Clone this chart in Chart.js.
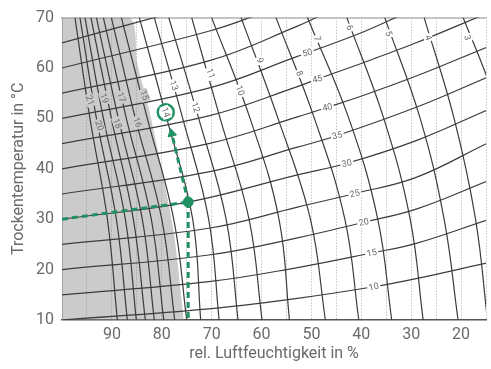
<!DOCTYPE html>
<html>
<head>
<meta charset="utf-8">
<script src="https://cdn.jsdelivr.net/npm/chart.js@4.4.0/dist/chart.umd.min.js"></script>
<style>
html, body { margin: 0; padding: 0; background: #fff; }
</style>
</head>
<body>
<canvas id="chart" width="491" height="369"></canvas>
<script>
// ---------------- DATA ----------------
// x = rel. Luftfeuchtigkeit (%), y = Trockentemperatur (°C)
const xTicks = [90, 80, 70, 60, 50, 40, 30, 20];
const yTicks = [10, 20, 30, 40, 50, 60, 70];

// Holzfeuchte-Gleichgewicht (%): rel. Feuchte bei T = 70, 50, 30, 10 °C
const emcTemps = [70, 50, 30, 10];
const emc4 = [27.4, 21.4, 17.1, 14.7];
const emc5 = [35.3, 28.2, 23.4, 20.6];
const emc6 = [42.9, 35.5, 30.2, 27.6];
const emc7 = [50.8, 42.5, 36.7, 33.9];
const emc8 = [57.1, 49.4, 43.3, 40.5];
const emc9 = [64.1, 56.7, 50.2, 47.2];
const emc10 = [70.0, 62.3, 56.5, 54.4];
const emc11 = [74.0, 68.3, 62.5, 59.9];
const emc12 = [78.6, 72.6, 67.1, 64.7];
const emc13 = [81.5, 75.8, 70.6, 68.5];
const emc14 = [84.5, 79.0, 73.8, 72.2];
const emc15 = [88.1, 82.9, 77.6, 75.0];
const emc16 = [90.1, 85.3, 80.0, 77.4];
const emc17 = [91.7, 87.1, 82.1, 79.6];
const emc18 = [93.1, 88.7, 83.9, 81.5];
const emc19 = [94.2, 90.1, 85.7, 83.3];
const emc20 = [95.4, 91.7, 87.3, 85.1];
const emc21 = [96.4, 93.1, 89.1, 86.9];
const emc22 = [97.4, 94.4, 90.9, 88.9];
const emc3 = [[19.6, 70], [15.5, 60], [12.5, 52]];
const emcLevels = [4, 5, 6, 7, 8, 9, 10, 11, 12, 13, 14, 15, 16, 17, 18, 19, 20, 21, 22];
const emcRH = [emc4, emc5, emc6, emc7, emc8, emc9, emc10, emc11, emc12, emc13,
               emc14, emc15, emc16, emc17, emc18, emc19, emc20, emc21, emc22];

// Feuchttemperatur-Linien (°C): [rel. Feuchte, Trockentemperatur]
const wb10 = [[100, 10], [70.6, 12.2], [52.8, 14.3], [37.5, 16.6], [29.0, 18.2], [14.9, 21.3]];
const wb15 = [[100, 15], [70.6, 17.6], [52.8, 20.4], [37.9, 23.3], [29.0, 25.2], [14.9, 29.8]];
const wb20 = [[100, 20], [70.6, 22.9], [52.8, 26.3], [39.5, 29.4], [29.0, 32.0], [14.9, 37.5]];
const wb25 = [[100, 25], [70.6, 28.2], [52.8, 32.4], [41.3, 35.1], [29.0, 38.3], [14.9, 45.0]];
const wb30 = [[100, 30], [74.7, 33.4], [52.8, 38.8], [42.9, 41.1], [29.0, 45.6], [14.9, 51.6]];
const wb35 = [[100, 35], [70.6, 39.4], [52.8, 44.3], [44.8, 46.6], [29.0, 52.2], [14.9, 58.1]];
const wb40 = [[100, 40], [70.6, 45.0], [52.8, 50.3], [46.8, 52.2], [39.5, 54.6], [29.0, 58.4], [14.9, 64.1]];
const wb45 = [[100, 45], [70.6, 50.5], [52.8, 56.3], [48.8, 57.8], [39.5, 61.1], [29.0, 65.0], [14.9, 70.8]];
const wb50 = [[100, 50], [70.6, 56.0], [52.8, 62.3], [50.8, 63.0], [39.5, 67.2], [32.0, 70.5]];
const wb55 = [[100, 55], [70.6, 61.4], [52.8, 68.3], [48.0, 70.5]];
const wb60 = [[100, 60], [70.6, 67.3], [60.0, 70.8]];
const wb65 = [[100, 65], [80.0, 70.4]];
const wbLines = [wb10, wb15, wb20, wb25, wb30, wb35, wb40, wb45, wb50, wb55, wb60, wb65];

// grauer Bereich (links der Grenzlinie)
const grayZone = [[100, 70], [86.5, 70], [84.9, 60.9], [82.5, 51.6], [80.2, 40.7], [77.6, 27.4], [75.6, 10]];

// Beispiel: Feuchttemperatur 30 °C, 75 % -> Holzfeuchte 14 %
const exampleH = [[100, 30], [74.7, 33.4]];
const exampleV = [[74.7, 33.4], [74.7, 10]];
const exampleUp = [[74.7, 33.4], [78.0, 47.0]];
const examplePoint = [[74.7, 33.4]];
const exampleArrow = [[78.0, 47.0]];
const exampleCircle = [[79.2, 51.2]];

// Beschriftungen [Wert, rel. Feuchte, Temperatur]
const wbLabels = [[10, 37.5, 16.6], [15, 37.9, 23.3], [20, 39.5, 29.4], [25, 41.3, 35.1], [30, 42.9, 41.1],
                  [35, 44.8, 46.6], [40, 46.8, 52.2], [45, 48.8, 57.8], [50, 50.8, 63.0]];
const emcLabels = [[3, 18.7, 66.0], [4, 26.6, 66.0], [5, 34.5, 66.8], [6, 42.3, 68.0], [7, 48.8, 65.8],
                   [8, 52.4, 58.9], [9, 60.3, 61.5], [10, 64.3, 55.5], [11, 70.2, 58.9], [12, 73.2, 52.2],
                   [13, 77.6, 56.5], [14, 79.2, 51.2], [15, 83.5, 54.6], [16, 84.9, 49.2], [17, 88.1, 54.2],
                   [18, 88.9, 49.0], [19, 91.5, 54.0], [20, 92.5, 48.6], [21, 94.4, 53.6]];

// ---------------- CHART ----------------
const FONT = 'Roboto';
const GREEN = '#1f9163';
const LINE = '#3c3c3c';

function pts(list) {
    return list.map(p => ({ x: p[0], y: p[1] }));
}

function curve(list) {
    return {
        data: pts(list),
        showLine: true,
        borderColor: LINE,
        borderWidth: 1.2,
        pointRadius: 0,
        tension: 0.4,
        order: 5
    };
}

const datasets = [];

datasets.push({
    data: pts(grayZone),
    showLine: true,
    borderWidth: 0,
    borderColor: 'rgba(0,0,0,0)',
    backgroundColor: 'rgba(140,140,140,0.45)',
    fill: 'start',
    pointRadius: 0,
    tension: 0.3,
    order: 10
});

emcLevels.forEach((lvl, i) => {
    datasets.push(curve(emcTemps.map((t, j) => [emcRH[i][j], t])));
});
datasets.push(curve(emc3));
wbLines.forEach(l => datasets.push(curve(l)));

const dashed = list => ({
    data: pts(list),
    showLine: true,
    borderColor: GREEN,
    borderWidth: 3,
    borderDash: [6, 4],
    pointRadius: 0,
    tension: 0,
    order: 2
});
datasets.push(dashed(exampleH));
datasets.push(dashed(exampleV));
datasets.push(dashed(exampleUp));

datasets.push({
    data: pts(examplePoint),
    pointRadius: 5,
    backgroundColor: GREEN,
    borderColor: GREEN,
    order: 1
});
datasets.push({
    data: pts(exampleArrow),
    pointStyle: 'triangle',
    rotation: -13,
    pointRadius: 5,
    backgroundColor: GREEN,
    borderColor: GREEN,
    order: 1
});
datasets.push({
    data: pts(exampleCircle),
    pointRadius: 8,
    borderWidth: 2.5,
    backgroundColor: '#fff',
    borderColor: GREEN,
    order: 1
});

// ---------------- LABELS ----------------
const curveLabels = {
    id: 'curveLabels',
    afterDatasetsDraw(chart) {
        const { ctx } = chart;
        const x = chart.scales.x;
        const y = chart.scales.y;

        function put(text, rh, t, deg, bg) {
            ctx.save();
            ctx.translate(x.getPixelForValue(rh), y.getPixelForValue(t));
            ctx.rotate(deg * Math.PI / 180);
            const w = ctx.measureText(text).width + 3;
            ctx.fillStyle = bg;
            ctx.fillRect(-w / 2, -4.5, w, 9);
            ctx.fillStyle = '#6a6a6a';
            ctx.fillText(text, 0, 0.5);
            ctx.restore();
        }

        ctx.save();
        ctx.font = '9px ' + FONT;
        ctx.textAlign = 'center';
        ctx.textBaseline = 'middle';
        wbLabels.forEach(l => put(String(l[0]), l[1], l[2], -14, '#fff'));
        emcLabels.forEach(l => put(String(l[0]), l[1], l[2], 70, l[0] >= 15 ? '#cbcbcb' : '#fff'));
        ctx.restore();
    }
};

new Chart(document.getElementById('chart'), {
    type: 'scatter',
    data: { datasets },
    options: {
        responsive: false,
        animation: false,
        layout: { autoPadding: false, padding: { top: 16, right: 2, left: 0, bottom: 0 } },
        plugins: { legend: { display: false }, tooltip: { enabled: false } },
        scales: {
            x: {
                type: 'linear',
                reverse: true,
                min: 15,
                max: 100,
                afterFit(s) { s.height = 49; },
                ticks: {
                    stepSize: 5,
                    autoSkip: false,
                    maxRotation: 0,
                    padding: 5,
                    color: '#6a6a6a',
                    font: { family: FONT, size: 16 },
                    callback: v => xTicks.includes(v) ? String(v) : ''
                },
                grid: { color: '#a8a8a8', lineWidth: 1, drawTicks: false },
                border: { display: true, color: '#555', width: 1.5, dash: [1, 2] },
                title: {
                    display: true,
                    text: 'rel. Luftfeuchtigkeit in %',
                    color: '#6a6a6a',
                    font: { family: FONT, size: 16 },
                    padding: { top: 0, bottom: 5 }
                }
            },
            xTop: {
                type: 'linear',
                position: 'top',
                reverse: true,
                min: 15,
                max: 100,
                afterFit(s) { s.height = 0; },
                ticks: { display: false },
                grid: { display: false, drawTicks: false },
                border: { display: true, color: '#c4c4c4', width: 2 }
            },
            y: {
                min: 10,
                max: 70,
                afterFit(s) { s.width = 62; },
                ticks: {
                    stepSize: 10,
                    padding: 8,
                    color: '#6a6a6a',
                    font: { family: FONT, size: 16 },
                    callback: v => yTicks.includes(v) ? String(v) : ''
                },
                grid: { display: false, drawTicks: false },
                border: { display: true, color: '#bbb', width: 1 },
                title: {
                    display: true,
                    text: 'Trockentemperatur in °C',
                    color: '#6a6a6a',
                    font: { family: FONT, size: 16 },
                    padding: { top: 9, bottom: 0 }
                }
            }
        }
    },
    plugins: [curveLabels]
});
</script>
</body>
</html>
